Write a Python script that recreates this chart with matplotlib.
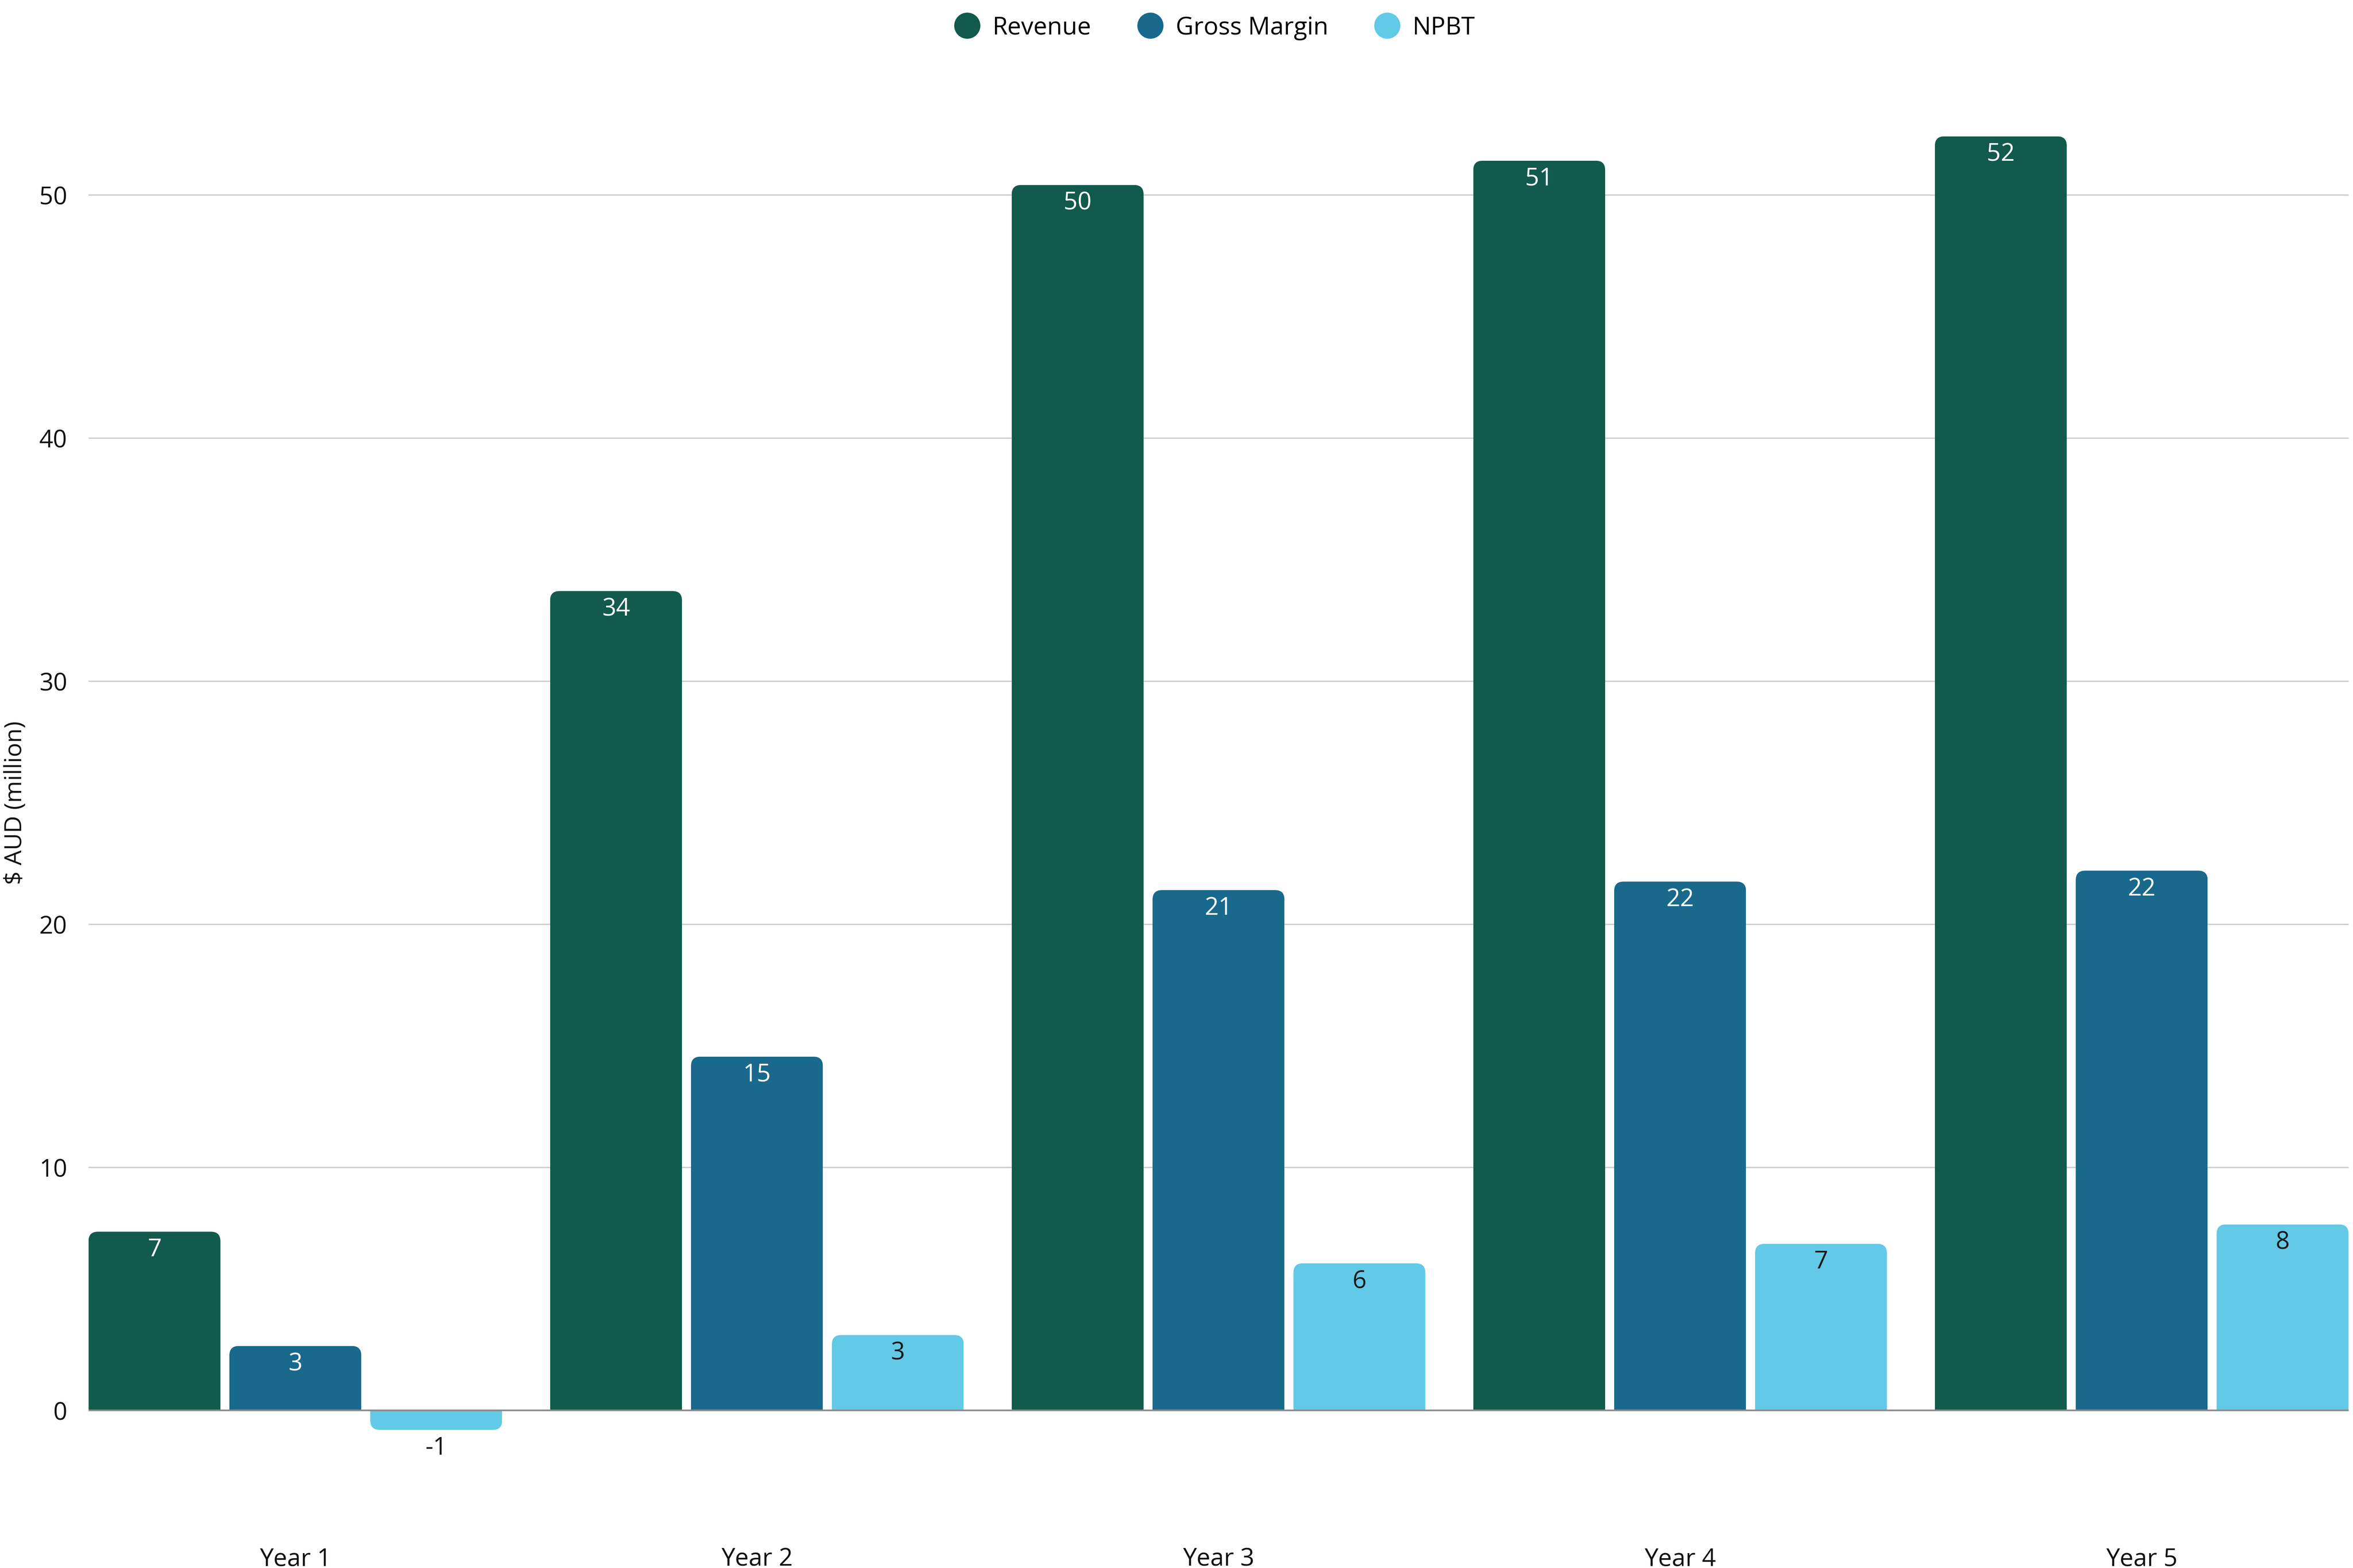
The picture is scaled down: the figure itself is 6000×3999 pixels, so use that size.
import numpy as np
import matplotlib
matplotlib.use("Agg")
import matplotlib.pyplot as plt
from matplotlib.patches import FancyBboxPatch
from matplotlib.lines import Line2D

# ---- data ----
years = ["Year 1", "Year 2", "Year 3", "Year 4", "Year 5"]
series_names = ["Revenue", "Gross Margin", "NPBT"]
revenue = [7.35, 33.7, 50.4, 51.4, 52.4]
gross_margin = [2.65, 14.55, 21.4, 21.75, 22.2]
npbt = [-0.8, 3.1, 6.05, 6.85, 7.65]
y_ticks = [0, 10, 20, 30, 40, 50]

colors = ["#115A4C", "#19698C", "#62C9E6"]
label_colors = ["white", "white", "#1a1a1a"]

plt.rcParams["font.family"] = ["Open Sans", "DejaVu Sans"]

fig = plt.figure(figsize=(20, 13.3333), dpi=300)
ax_left, ax_bottom = 59 / 1568, 1 - 1021 / 1045
ax_w = (1565 - 59) / 1568
ax_h = (1021 - 49) / 1045
ax = fig.add_axes([ax_left, ax_bottom, ax_w, ax_h])

bar_w = 0.2857
pitch = 0.3052
x = np.arange(len(years))
ylim = (-5, 55)
xlim = (-0.448, len(years) - 1 + 0.448)
ax.set_xlim(*xlim)
ax.set_ylim(*ylim)

# pixel sizes to compute rounding aspect
fig_w_px, fig_h_px = 6000, 4000
x_per_px = (xlim[1] - xlim[0]) / (ax_w * fig_w_px)
y_per_px = (ylim[1] - ylim[0]) / (ax_h * fig_h_px)
aspect = y_per_px / x_per_px
radius_px = 24
r = radius_px * x_per_px

all_series = [revenue, gross_margin, npbt]
for si, (vals, name) in enumerate(zip(all_series, series_names)):
    pos = x + (si - 1) * pitch
    bars = ax.bar(pos, vals, width=bar_w, color=colors[si], zorder=3, linewidth=0)
    for rect, v in zip(bars, vals):
        bx, bw, bh = rect.get_x(), rect.get_width(), rect.get_height()
        ext = 2.0
        if bh >= 0:
            clip = FancyBboxPatch((bx, -ext), bw, bh + ext,
                                  boxstyle=f"round,pad=0,rounding_size={r}",
                                  mutation_aspect=aspect, transform=ax.transData)
        else:
            clip = FancyBboxPatch((bx, bh), bw, -bh + ext,
                                  boxstyle=f"round,pad=0,rounding_size={r}",
                                  mutation_aspect=aspect, transform=ax.transData)
        rect.set_clip_path(clip)
        lab = f"{round(v):d}"
        col = label_colors[si] if v >= 0 else "#1a1a1a"
        ax.annotate(lab, (rect.get_x() + bw / 2, v), xytext=(0, -11),
                    textcoords="offset points", ha="center", va="center",
                    fontsize=15, color=col, zorder=5)

ax.axhline(0, color="#8c8c8c", linewidth=1.0, zorder=4)
ax.set_yticks(y_ticks)
ax.set_yticklabels([str(t) for t in y_ticks])
ax.grid(axis="y", color="#cccccc", linewidth=0.8, zorder=0)
ax.set_xticks(x)
ax.set_xticklabels(years)
ax.tick_params(axis="both", length=0, labelsize=15, colors="#111111")
ax.tick_params(axis="y", pad=13)
ax.tick_params(axis="x", pad=9)
for s in ax.spines.values():
    s.set_visible(False)

ax.set_ylabel("$ AUD (million)", fontsize=14.5, color="#111111")
ax.yaxis.set_label_coords(-0.0272, 0.5)

handles = [Line2D([], [], marker="o", linestyle="none", markersize=15,
                  markerfacecolor=c, markeredgecolor=c) for c in colors]
fig.legend(handles, series_names, loc="upper center",
           bbox_to_anchor=(ax_left + ax_w / 2 - 0.002, 1.004), ncol=3, frameon=False,
           fontsize=15, handlelength=1.2, handletextpad=0.44, columnspacing=1.8)

fig.savefig("out.png", dpi=300, facecolor="white")
